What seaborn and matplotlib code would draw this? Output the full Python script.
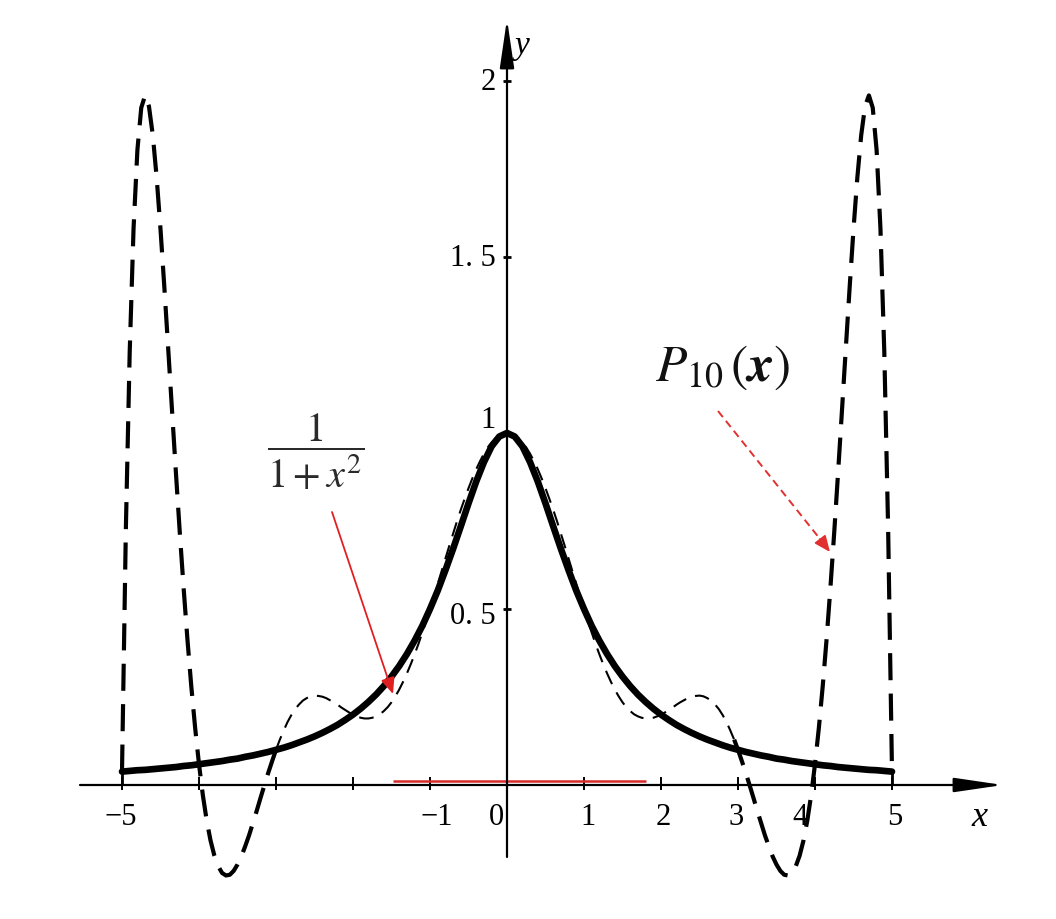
import numpy as np
import matplotlib
matplotlib.use('Agg')
import matplotlib.pyplot as plt
import seaborn as sns

# f(x) = 1/(1+x^2), sampled every 0.1 from -5 to 5
x_f = np.round(np.linspace(-5, 5, 101), 2)
y_f = [0.038, 0.040, 0.042, 0.043, 0.045, 0.047, 0.049, 0.051, 0.054, 0.056,
       0.059, 0.062, 0.065, 0.068, 0.072, 0.075, 0.080, 0.084, 0.089, 0.094,
       0.100, 0.106, 0.113, 0.121, 0.129, 0.138, 0.148, 0.159, 0.171, 0.185,
       0.200, 0.217, 0.236, 0.257, 0.281, 0.308, 0.338, 0.372, 0.410, 0.452,
       0.500, 0.552, 0.610, 0.671, 0.735, 0.800, 0.862, 0.917, 0.962, 0.990,
       1.000, 0.990, 0.962, 0.917, 0.862, 0.800, 0.735, 0.671, 0.610, 0.552,
       0.500, 0.452, 0.410, 0.372, 0.338, 0.308, 0.281, 0.257, 0.236, 0.217,
       0.200, 0.185, 0.171, 0.159, 0.148, 0.138, 0.129, 0.121, 0.113, 0.106,
       0.100, 0.094, 0.089, 0.084, 0.080, 0.075, 0.072, 0.068, 0.065, 0.062,
       0.059, 0.056, 0.054, 0.051, 0.049, 0.047, 0.045, 0.043, 0.042, 0.040,
       0.038]

# P10(x), sampled every 0.05 from -5 to 5
x_p = np.round(np.linspace(-5, 5, 201), 2)
y_p = [0.038, 0.726, 1.230, 1.581, 1.804, 1.924, 1.959, 1.928, 1.846, 1.726,
       1.579, 1.414, 1.240, 1.063, 0.888, 0.719, 0.560, 0.413, 0.280, 0.162,
       0.059, -0.029, -0.101, -0.158, -0.201, -0.231, -0.250, -0.257, -0.255, -0.244,
       -0.226, -0.203, -0.174, -0.143, -0.108, -0.073, -0.036, -0.000, 0.035, 0.068,
       0.100, 0.129, 0.155, 0.179, 0.199, 0.216, 0.229, 0.240, 0.247, 0.252,
       0.254, 0.253, 0.251, 0.247, 0.241, 0.235, 0.228, 0.220, 0.213, 0.206,
       0.200, 0.195, 0.191, 0.189, 0.189, 0.191, 0.195, 0.201, 0.210, 0.221,
       0.235, 0.252, 0.271, 0.293, 0.317, 0.343, 0.371, 0.401, 0.433, 0.466,
       0.500, 0.535, 0.571, 0.607, 0.643, 0.679, 0.714, 0.749, 0.782, 0.813,
       0.843, 0.871, 0.897, 0.920, 0.941, 0.959, 0.973, 0.985, 0.993, 0.998,
       1.000,
       0.998, 0.993, 0.985, 0.973, 0.959, 0.941, 0.920, 0.897, 0.871, 0.843,
       0.813, 0.782, 0.749, 0.714, 0.679, 0.643, 0.607, 0.571, 0.535, 0.500,
       0.466, 0.433, 0.401, 0.371, 0.343, 0.317, 0.293, 0.271, 0.252, 0.235,
       0.221, 0.210, 0.201, 0.195, 0.191, 0.189, 0.189, 0.191, 0.195, 0.200,
       0.206, 0.213, 0.220, 0.228, 0.235, 0.241, 0.247, 0.251, 0.253, 0.254,
       0.252, 0.247, 0.240, 0.229, 0.216, 0.199, 0.179, 0.155, 0.129, 0.100,
       0.068, 0.035, -0.000, -0.036, -0.073, -0.108, -0.143, -0.174, -0.203, -0.226,
       -0.244, -0.255, -0.257, -0.250, -0.231, -0.201, -0.158, -0.101, -0.029, 0.059,
       0.162, 0.280, 0.413, 0.560, 0.719, 0.888, 1.063, 1.240, 1.414, 1.579,
       1.726, 1.846, 1.928, 1.959, 1.924, 1.804, 1.581, 1.230, 0.726, 0.038]

x_ticks = [-5, -4, -3, -2, -1, 0, 1, 2, 3, 4, 5]
x_label_pos = [-5, -1, 0, 1, 2, 3, 4, 5]
x_labels = ['−5', '−1', '0', '1', '2', '3', '4', '5']
y_ticks = [0.5, 1.0, 1.5, 2.0]
y_labels = ['0. 5', '1', '1. 5', '2']

sns.set_theme(style='white')
plt.rcParams['font.family'] = ['Liberation Serif', 'DejaVu Serif']
plt.rcParams['mathtext.fontset'] = 'stix'


# pixel -> data helpers for placing the annotations
def X(px):
    return (px - 507) / 77


def Y(py):
    return (786 - py) / 352


fig = plt.figure(figsize=(10.56, 9.2), dpi=100)
ax = fig.add_axes([0, 0, 1, 1])
ax.set_xlim(X(0), X(1056))
ax.set_ylim(Y(920), Y(0))
ax.axis('off')

# axes drawn through the origin, with arrow heads
head = dict(arrowstyle='-|>,head_length=1.5,head_width=0.22', mutation_scale=20,
            lw=1.6, color='black', shrinkA=0, shrinkB=0)
ax.annotate('', xy=(X(1003), 0), xytext=(X(80), 0), arrowprops=head)
ax.annotate('', xy=(0, Y(20)), xytext=(0, Y(858)), arrowprops=head)
ax.vlines(x_ticks, -0.014, 0.022, color='black', lw=1.4)
ax.vlines([-5, 5], 0, 0.045, color='black', lw=2)
ax.hlines(y_ticks, -0.05, 0.05, color='black', lw=2)

# red segment on the x axis
ax.plot([X(393), X(646)], [Y(782), Y(782)], color='#d62a2a', lw=1.8,
        solid_capstyle='butt')

# curves
sns.lineplot(x=x_f, y=y_f, ax=ax, color='black', lw=4.8, estimator=None, sort=False)
yp = np.array(y_p)
outer_l = x_p <= -2.95
outer_r = x_p >= 2.95
inner = (x_p >= -3) & (x_p <= 3)
for m in (outer_l, outer_r):
    sns.lineplot(x=x_p[m], y=yp[m], ax=ax, color='black', lw=3.0,
                 linestyle=(0, (6.5, 3.2)), estimator=None, sort=False)
sns.lineplot(x=x_p[inner], y=yp[inner], ax=ax, color='black', lw=1.5,
             linestyle=(0, (7, 4.5)), estimator=None, sort=False)

# tick labels
nudge = {-5: -0.01, -1: 0.09, 0: -0.14, 1: 0.05, 2: 0.03, 3: -0.03, 4: -0.19, 5: 0.04}
for pos, lab in zip(x_label_pos, x_labels):
    ax.text(pos + nudge[pos], Y(818), lab, fontsize=22, color='black',
            ha='center', va='center')
y_label_y = [Y(617), Y(420), Y(258), Y(82)]
for yy, lab in zip(y_label_y, y_labels):
    ax.text(X(496), yy, lab, fontsize=22, color='black', ha='right', va='center')
ax.text(X(979), Y(818), 'x', fontsize=26, style='italic', color='black',
        ha='center', va='center')
ax.text(X(522), Y(46), 'y', fontsize=24, style='italic', color='black',
        ha='center', va='center')

# annotations
ax.text(X(316), Y(452), r'$\dfrac{1}{1+x^2}$', fontsize=29, color='#2a2a2a',
        ha='center', va='center')
ax.annotate('', xy=(X(393), Y(695)), xytext=(X(332), Y(513)),
            arrowprops=dict(arrowstyle='-|>,head_length=0.7,head_width=0.3',
                            mutation_scale=14, lw=1.3, color='#e02020',
                            shrinkA=0, shrinkB=0))
ax.text(X(723), Y(368), r'$P_{10}\,(\mathbfit{x})$', fontsize=37, color='#111111',
        ha='center', va='center')
ax.plot([X(718), X(824)], [Y(412), Y(545)], color='#e03030', lw=1.4,
        linestyle=(0, (4, 2.5)))
ax.annotate('', xy=(X(830), Y(553)), xytext=(X(820), Y(540)),
            arrowprops=dict(arrowstyle='-|>,head_length=0.7,head_width=0.3',
                            mutation_scale=14, lw=1.3, color='#e03030',
                            shrinkA=0, shrinkB=0))

fig.savefig('out.png', dpi=100)
